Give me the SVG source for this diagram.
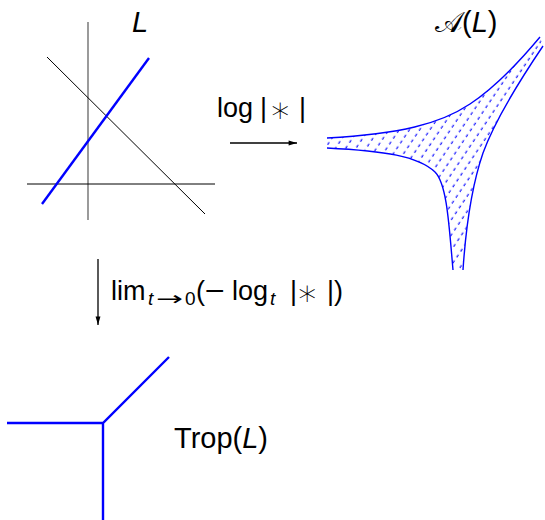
<svg xmlns="http://www.w3.org/2000/svg" width="545" height="520" viewBox="0 0 545 520">
<style>
  text { font-family: "Liberation Sans", Arial, sans-serif; fill: #000; }
  .big { font-size: 29px; }
  .mid { font-size: 27px; }
  .sub { font-size: 19px; }
  .it { font-style: italic; }
  .sym { font-family: "DejaVu Sans", sans-serif; }
  .ast { font-family: "DejaVu Sans", sans-serif; font-weight: 200; font-size: 36px; text-anchor: middle; }
  .blue { stroke: #0000ff; fill: none; }
  .conn { stroke: #000; stroke-width: 1.3; fill: none; }
</style>
<defs>
  <marker id="ah" viewBox="0 0 12 10" refX="12" refY="5" markerWidth="9" markerHeight="7" markerUnits="userSpaceOnUse" orient="auto">
    <path d="M0,1.5 L12,5 L0,8.5 Z" fill="#000"/>
  </marker>
  <pattern id="hatch" patternUnits="userSpaceOnUse" width="7" height="8.5" patternTransform="rotate(-56)">
    <line x1="0" y1="4" x2="3.2" y2="4" stroke="#0000ff" stroke-width="1.1"/>
  </pattern>
  <clipPath id="amoebaClip">
    <path d="M327,138 C400,134 440,124 470,104 C500,84 525,55 540,37 L543,46 C520,80 495,120 483,153 C472,185 466,225 463,270 L453,270 C449,225 447,184 435,172 C418,156 385,151 327,148 Z"/>
  </clipPath>
</defs>

<g id="lines-L">
  <line x1="88" y1="22" x2="88" y2="220" stroke="#707070" stroke-width="1.4"/>
  <line x1="27" y1="184" x2="215" y2="184" stroke="#000" stroke-width="1"/>
  <line x1="47" y1="57" x2="205" y2="214" stroke="#000" stroke-width="1"/>
  <line x1="42" y1="204" x2="149" y2="58" class="blue" stroke-width="2.4"/>
  <text class="big it" x="132" y="32">L</text>
</g>

<g id="amoeba">
  <rect x="320" y="30" width="230" height="245" fill="url(#hatch)" clip-path="url(#amoebaClip)"/>
  <path class="blue" stroke-width="1.4" d="M327,138 C400,134 440,124 470,104 C500,84 525,55 540,37"/>
  <path class="blue" stroke-width="1.4" d="M543,46 C520,80 495,120 483,153 C472,185 466,225 463,270"/>
  <path class="blue" stroke-width="1.4" d="M327,148 C385,151 418,156 435,172 C447,184 449,225 453,270"/>
  <text class="big" x="435" y="32">𝒜(<tspan class="it">L</tspan>)</text>
</g>

<g id="trop">
  <path class="blue" stroke-width="2.4" d="M7,423 L103,423 L169,357 M103,423 L103,520"/>
  <text class="big" x="174" y="448">Trop(<tspan class="it">L</tspan>)</text>
</g>

<g id="connectors">
  <line class="conn" x1="230" y1="143" x2="297" y2="143" marker-end="url(#ah)"/>
  <text class="mid" x="217" y="117">log</text>
  <text class="mid" x="260" y="117">|</text>
  <text class="ast" x="280" y="122">∗</text>
  <text class="mid" x="299" y="117">|</text>

  <line class="conn" x1="98" y1="259" x2="98" y2="325" marker-end="url(#ah)"/>
  <text class="mid" x="111" y="300">lim</text>
  <text class="sub it" x="148" y="305">t</text>
  <text class="sub sym" x="156" y="305" textLength="27" lengthAdjust="spacingAndGlyphs">→</text>
  <text class="sub" x="185" y="305">0</text>
  <text class="mid" x="196" y="300">(</text>
  <text class="mid" x="205" y="300" textLength="20" lengthAdjust="spacingAndGlyphs">−</text>
  <text class="mid" x="232" y="300">log</text>
  <text class="sub it" x="270" y="305">t</text>
  <text class="mid" x="290" y="300">|</text>
  <text class="ast" x="307" y="305">∗</text>
  <text class="mid" x="327" y="300">|</text>
  <text class="mid" x="334" y="300">)</text>
</g>
</svg>
